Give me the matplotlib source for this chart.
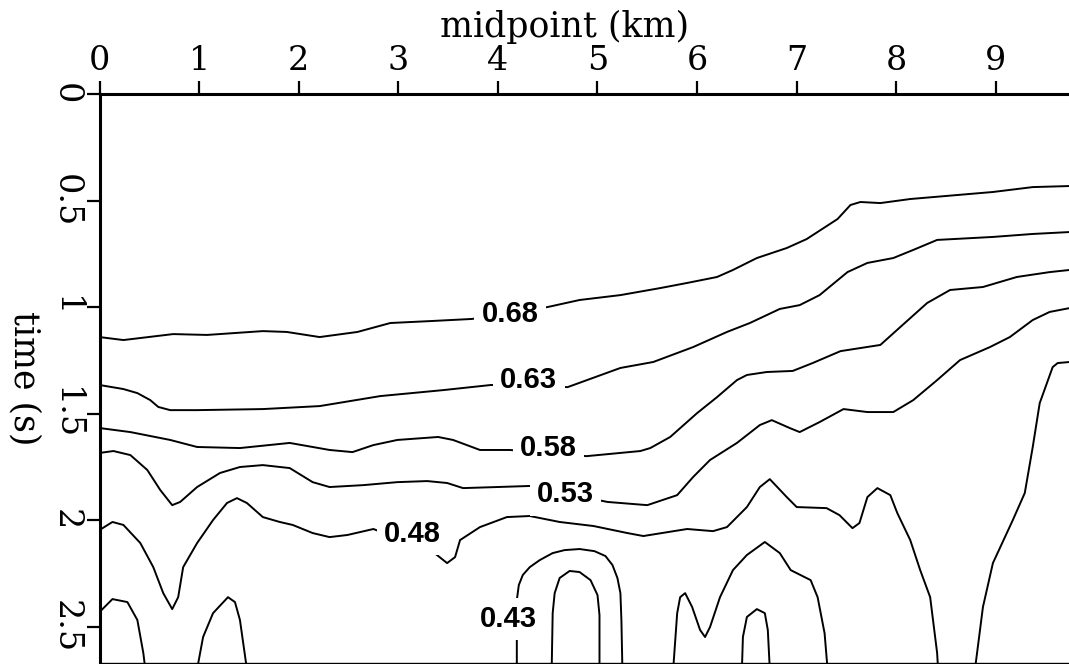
import matplotlib
matplotlib.use('Agg')
import matplotlib.pyplot as plt

# contour traces: midpoint (km) vs time (s)
v068_x = [0.00, 0.24, 0.74, 1.08, 1.64, 1.88, 2.21, 2.59, 2.92, 3.32, 3.74, 4.50, 4.82, 5.23, 5.63,
          5.90, 6.20, 6.36, 6.60, 6.90, 7.10, 7.41, 7.54, 7.64, 7.84, 8.14, 8.97, 9.37, 9.74]
v068_t = [1.141, 1.155, 1.127, 1.131, 1.113, 1.117, 1.141, 1.117, 1.075, 1.066, 1.056, 1.000, 0.967,
          0.944, 0.911, 0.887, 0.859, 0.826, 0.770, 0.723, 0.681, 0.587, 0.521, 0.507, 0.512, 0.493,
          0.460, 0.437, 0.432]

v063_x = [0.00, 0.24, 0.38, 0.51, 0.59, 0.71, 0.98, 1.64, 2.21, 2.82, 3.45, 3.93, 4.70, 5.23, 5.56,
          5.96, 6.30, 6.53, 6.83, 7.03, 7.23, 7.51, 7.71, 7.97, 8.17, 8.41, 8.97, 9.37, 9.74]
v063_t = [1.366, 1.385, 1.404, 1.437, 1.469, 1.484, 1.484, 1.479, 1.465, 1.418, 1.390, 1.366, 1.376,
          1.286, 1.258, 1.188, 1.117, 1.075, 1.009, 0.991, 0.944, 0.836, 0.793, 0.770, 0.732, 0.685,
          0.671, 0.657, 0.648]

v058_x = [0.00, 0.31, 0.71, 0.98, 1.41, 1.91, 2.31, 2.54, 2.75, 2.99, 3.40, 3.55, 3.82, 4.12, 4.89,
          5.43, 5.53, 5.73, 6.00, 6.20, 6.40, 6.50, 6.70, 6.96, 7.16, 7.44, 7.84, 8.04, 8.31, 8.54,
          8.87, 9.21, 9.54, 9.74]
v058_t = [1.568, 1.587, 1.624, 1.657, 1.662, 1.638, 1.671, 1.681, 1.648, 1.624, 1.610, 1.624, 1.671,
          1.671, 1.700, 1.676, 1.662, 1.610, 1.498, 1.423, 1.343, 1.319, 1.305, 1.300, 1.263, 1.207,
          1.178, 1.094, 0.981, 0.920, 0.906, 0.859, 0.836, 0.826]

v053_x = [0.00, 0.14, 0.31, 0.48, 0.61, 0.73, 0.81, 0.98, 1.21, 1.41, 1.64, 1.91, 2.14, 2.31, 2.65,
          2.99, 3.29, 3.49, 3.65, 3.99, 4.32, 5.10, 5.50, 5.80, 5.96, 6.13, 6.40, 6.63, 6.75, 6.93,
          7.03, 7.23, 7.47, 7.71, 7.97, 8.17, 8.41, 8.64, 8.94, 9.14, 9.37, 9.54, 9.74]
v053_t = [1.685, 1.676, 1.695, 1.765, 1.859, 1.930, 1.915, 1.845, 1.779, 1.751, 1.742, 1.756, 1.822,
          1.845, 1.836, 1.822, 1.817, 1.826, 1.850, 1.845, 1.840, 1.915, 1.930, 1.883, 1.798, 1.718,
          1.638, 1.554, 1.531, 1.568, 1.587, 1.540, 1.479, 1.493, 1.493, 1.437, 1.343, 1.249, 1.188,
          1.141, 1.061, 1.023, 1.005]

v048_x = [0.00, 0.13, 0.24, 0.41, 0.54, 0.64, 0.73, 0.79, 0.84, 0.98, 1.14, 1.28, 1.38, 1.48, 1.64,
          1.81, 1.94, 2.14, 2.31, 2.49, 2.75, 3.35, 3.49, 3.57, 3.62, 3.82, 4.09, 4.32, 4.62, 4.96,
          5.30, 5.46, 5.90, 6.16, 6.30, 6.50, 6.63, 6.73, 6.90, 7.00, 7.30, 7.43, 7.56, 7.63, 7.71,
          7.81, 7.94, 8.01, 8.14, 8.24, 8.34, 8.41, 8.42]
v048_t = [2.047, 2.009, 2.023, 2.108, 2.221, 2.343, 2.418, 2.362, 2.221, 2.108, 2.000, 1.920, 1.897,
          1.920, 1.986, 2.009, 2.023, 2.061, 2.080, 2.070, 2.042, 2.150, 2.202, 2.174, 2.094, 2.033,
          1.986, 1.981, 2.009, 2.028, 2.061, 2.075, 2.042, 2.052, 2.033, 1.939, 1.845, 1.808, 1.892,
          1.939, 1.944, 1.977, 2.038, 2.014, 1.892, 1.850, 1.883, 1.967, 2.094, 2.235, 2.362, 2.624,
          2.704]

# 0.43 level, several pieces
v043a_x = [0.00, 0.13, 0.28, 0.38, 0.44, 0.46]
v043a_t = [2.432, 2.371, 2.385, 2.469, 2.624, 2.70]
v043b_x = [0.98, 1.04, 1.14, 1.29, 1.36, 1.41, 1.48]
v043b_t = [2.70, 2.549, 2.437, 2.362, 2.385, 2.469, 2.70]
v043c_x = [4.19, 4.19, 4.21, 4.25, 4.32, 4.42, 4.55, 4.67, 4.82, 4.97, 5.08, 5.15, 5.20, 5.23, 5.24, 5.25]
v043c_t = [2.70, 2.376, 2.305, 2.258, 2.221, 2.188, 2.155, 2.141, 2.136, 2.146, 2.169, 2.211, 2.272,
           2.343, 2.469, 2.70]
v043d_x = [5.76, 5.80, 5.83, 5.88, 5.95, 6.03, 6.08, 6.13, 6.23, 6.36, 6.50, 6.68, 6.83, 6.94, 7.14,
           7.21, 7.28, 7.31]
v043d_t = [2.70, 2.437, 2.362, 2.343, 2.408, 2.516, 2.549, 2.502, 2.362, 2.235, 2.164, 2.103, 2.155,
           2.235, 2.282, 2.362, 2.531, 2.70]
v043e_x = [8.79, 8.87, 8.97, 9.17, 9.29, 9.37, 9.44, 9.57, 9.62, 9.74]
v043e_t = [2.70, 2.408, 2.202, 2.000, 1.873, 1.657, 1.451, 1.282, 1.263, 1.258]

# 0.38 level
v038a_x = [4.54, 4.55, 4.57, 4.62, 4.72, 4.82, 4.93, 5.00, 5.02, 5.02]
v038a_t = [2.70, 2.437, 2.343, 2.272, 2.239, 2.244, 2.282, 2.352, 2.446, 2.70]
v038b_x = [6.45, 6.46, 6.50, 6.60, 6.68, 6.71, 6.73]
v038b_t = [2.70, 2.549, 2.455, 2.418, 2.437, 2.516, 2.70]

# inline contour labels
label_levels = [0.68, 0.63, 0.58, 0.53, 0.48, 0.43]
label_x = [4.12, 4.31, 4.51, 4.68, 3.14, 4.11]
label_t = [1.033, 1.343, 1.660, 1.880, 2.066, 2.465]

x_ticks = list(range(10))
t_ticks = [0, 0.5, 1, 1.5, 2, 2.5]
t_tick_labels = ['0', '0.5', '1', '1.5', '2', '2.5']

plt.rcParams['font.family'] = 'DejaVu Serif'

fig = plt.figure(figsize=(10.69, 6.64), dpi=100)
ax = fig.add_axes([99.5 / 1069, 1 / 664, 969.5 / 1069, 569 / 664])

traces = [(v068_x, v068_t), (v063_x, v063_t), (v058_x, v058_t), (v053_x, v053_t),
          (v048_x, v048_t), (v043a_x, v043a_t), (v043b_x, v043b_t), (v043c_x, v043c_t),
          (v043d_x, v043d_t), (v043e_x, v043e_t), (v038a_x, v038a_t), (v038b_x, v038b_t)]
for xs, ts in traces:
    ax.plot(xs, ts, color='black', lw=1.4, solid_joinstyle='round', solid_capstyle='round')

for lev, lx, lt in zip(label_levels, label_x, label_t):
    ax.text(lx, lt, f'{lev:.2f}', ha='center', va='center', fontsize=21,
            family='Liberation Sans', weight='bold', zorder=5,
            bbox=dict(boxstyle='square,pad=0.25', fc='white', ec='none'))

ax.set_xlim(0, 9.734)
ax.set_ylim(2.671, 0)
ax.xaxis.tick_top()
ax.set_xticks(x_ticks)
ax.set_yticks(t_ticks)
ax.set_yticklabels(t_tick_labels)
ax.tick_params(axis='both', direction='out', length=9.5, width=1.6, labelsize=24, pad=3)
for lab in ax.get_yticklabels():
    lab.set_rotation(-90)
    lab.set_va('center')

ax.spines['right'].set_visible(False)
ax.spines['left'].set_linewidth(2.2)
ax.spines['top'].set_linewidth(2.2)
ax.spines['bottom'].set_linewidth(1.0)

fig.text(565 / 1069, 1 - 27 / 664, 'midpoint (km)', fontsize=25, ha='center', va='center')
fig.text(25 / 1069, 1 - 378 / 664, 'time (s)', fontsize=25, rotation=-90, ha='center', va='center')

fig.savefig('out.png', dpi=100)
